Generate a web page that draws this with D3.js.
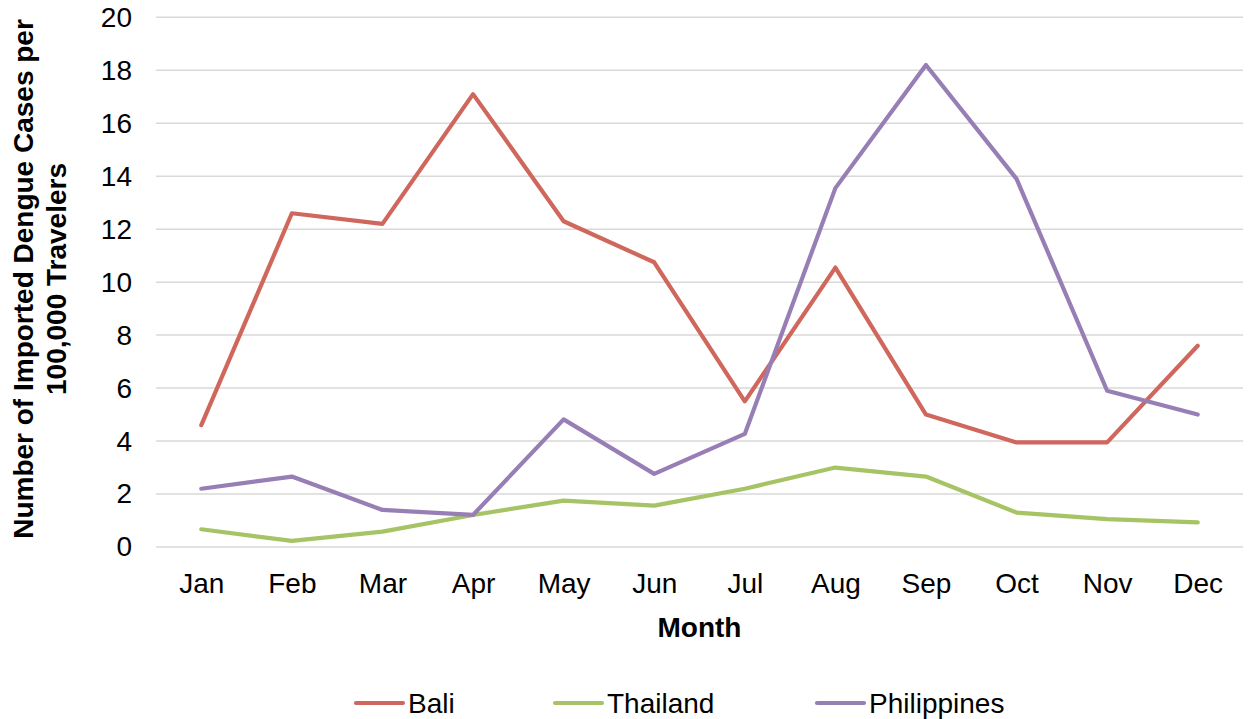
<!DOCTYPE html>
<html>
<head>
<meta charset="utf-8">
<script src="https://cdn.jsdelivr.net/npm/d3@7"></script>
<style>
  html, body { margin: 0; padding: 0; background: #fff; }
  svg { display: block; font-family: "Liberation Sans", Arial, sans-serif; }
</style>
</head>
<body>
<svg id="chart" width="1249" height="719"></svg>
<script>
// Monthly imported dengue incidence per 100,000 travelers
const months = ["Jan", "Feb", "Mar", "Apr", "May", "Jun", "Jul", "Aug", "Sep", "Oct", "Nov", "Dec"];
const bali        = [4.6, 12.6, 12.2, 17.1, 12.3, 10.75, 5.5, 10.55, 5.0, 3.95, 3.95, 7.6];
const thailand    = [0.67, 0.23, 0.58, 1.21, 1.75, 1.56, 2.2, 3.0, 2.66, 1.3, 1.05, 0.93];
const philippines = [2.2, 2.66, 1.4, 1.21, 4.82, 2.76, 4.27, 13.55, 18.2, 13.9, 5.9, 5.0];
const yTicks = [0, 2, 4, 6, 8, 10, 12, 14, 16, 18, 20];

const series = [
  { name: "Bali", values: bali, color: "#d0675d" },
  { name: "Thailand", values: thailand, color: "#a6c466" },
  { name: "Philippines", values: philippines, color: "#977eb5" }
];

const FONT = 28;
const svg = d3.select("#chart");
const plot = { left: 156, right: 1243, top: 17.3, bottom: 547 };

const x = d3.scalePoint().domain(months).range([plot.left, plot.right]).padding(0.5);
const y = d3.scaleLinear().domain([0, 20]).range([plot.bottom, plot.top]);

// Horizontal gridlines
svg.append("g")
  .selectAll("line")
  .data(yTicks)
  .join("line")
  .attr("x1", plot.left)
  .attr("x2", plot.right)
  .attr("y1", d => y(d))
  .attr("y2", d => y(d))
  .attr("stroke", "#d9d9d9")
  .attr("stroke-width", 1.5);

// Y axis labels
const yAxis = svg.append("g")
  .attr("transform", `translate(${plot.left - 24},0)`)
  .call(d3.axisLeft(y).tickValues(yTicks).tickSize(0).tickPadding(0));
yAxis.select(".domain").remove();
yAxis.selectAll("text")
  .attr("font-size", FONT)
  .attr("fill", "#000")
  .attr("font-family", "Liberation Sans, Arial, sans-serif");

// X axis labels
const xAxis = svg.append("g")
  .attr("transform", `translate(0,${plot.bottom})`)
  .call(d3.axisBottom(x).tickSize(0).tickPadding(26));
xAxis.select(".domain").remove();
xAxis.selectAll("text")
  .attr("font-size", FONT)
  .attr("fill", "#000")
  .attr("font-family", "Liberation Sans, Arial, sans-serif");

// Series lines
const line = d3.line()
  .x((d, i) => x(months[i]))
  .y(d => y(d));

svg.append("g")
  .selectAll("path")
  .data(series)
  .join("path")
  .attr("d", d => line(d.values))
  .attr("fill", "none")
  .attr("stroke", d => d.color)
  .attr("stroke-width", 4.2)
  .attr("stroke-linejoin", "round")
  .attr("stroke-linecap", "round");

// Axis titles
svg.append("text")
  .attr("x", (plot.left + plot.right) / 2)
  .attr("y", 637)
  .attr("text-anchor", "middle")
  .attr("font-size", FONT)
  .attr("font-weight", "bold")
  .text("Month");

const yTitle = svg.append("text")
  .attr("transform", "translate(0,279) rotate(-90)")
  .attr("text-anchor", "middle")
  .attr("font-size", FONT)
  .attr("font-weight", "bold");
yTitle.append("tspan").attr("x", 0).attr("y", 33).text("Number of Imported Dengue Cases per");
yTitle.append("tspan").attr("x", 0).attr("y", 66).text("100,000 Travelers");

// Legend
const legendX = [356, 555, 817];
const legend = svg.append("g")
  .selectAll("g")
  .data(series)
  .join("g")
  .attr("transform", (d, i) => `translate(${legendX[i]},703)`);
legend.append("line")
  .attr("x1", 0).attr("x2", 47)
  .attr("stroke", d => d.color)
  .attr("stroke-width", 4.2)
  .attr("stroke-linecap", "round");
legend.append("text")
  .attr("x", 52)
  .attr("dy", "0.36em")
  .attr("font-size", FONT)
  .text(d => d.name);
</script>
</body>
</html>
